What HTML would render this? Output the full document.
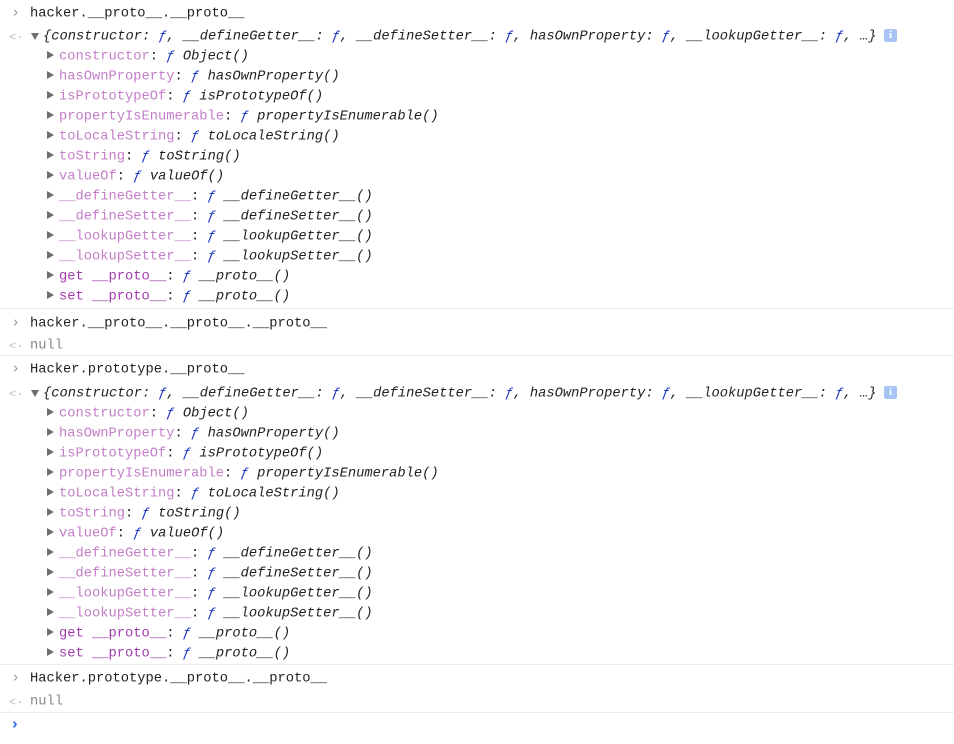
<!DOCTYPE html>
<html><head><meta charset="utf-8"><style>
html,body{margin:0;padding:0;background:#fff;width:954px;height:744px;overflow:hidden}
body{position:relative;font-family:"Liberation Mono",monospace;font-size:13.75px;color:#222}
.r{position:absolute;height:20px;line-height:20px;white-space:pre;transform:translateY(1.5px)}
.k{color:#c37ec8}
.kg{color:#a23aae}
.f{color:#1a33c0;font-style:italic}
.i{font-style:italic}
.t{position:absolute;width:0;height:0;border-top:4.5px solid transparent;border-bottom:4.5px solid transparent;border-left:7px solid #6e6e6e}
.td{position:absolute;width:0;height:0;border-left:4.5px solid transparent;border-right:4.5px solid transparent;border-top:7px solid #6e6e6e}
.sep{position:absolute;left:0;width:954px;height:1px;background:#ececec}
.info{position:absolute;width:13px;height:13px;background:#a8c4f5;border-radius:2px;color:#fff;font-size:11px;line-height:13px;text-align:center;font-family:"Liberation Serif",serif;font-weight:bold}
.g{color:#888}
.pr{color:#999;font-size:15px}
.ar{color:#bbb;font-size:12px}
</style></head><body>

<div class="r pr" style="left:11px;top:2px">›</div>
<div class="r" style="left:30px;top:3px">hacker.__proto__.__proto__</div>
<div class="r ar" style="left:9px;top:26px">&lt;·</div>
<div class="td" style="left:31px;top:33px"></div>
<div class="r i" style="left:43px;top:26px">{constructor: <span class="f">ƒ</span>, __defineGetter__: <span class="f">ƒ</span>, __defineSetter__: <span class="f">ƒ</span>, hasOwnProperty: <span class="f">ƒ</span>, __lookupGetter__: <span class="f">ƒ</span>, …}</div>
<div class="info" style="left:884px;top:29px">i</div>

<div id="e1"></div>

<div class="sep" style="top:308px"></div>
<div class="r pr" style="left:11px;top:312px">›</div>
<div class="r" style="left:30px;top:313px">hacker.__proto__.__proto__.__proto__</div>
<div class="r ar" style="left:9px;top:335px">&lt;·</div>
<div class="r g" style="left:30px;top:335px">null</div>
<div class="sep" style="top:355px"></div>

<div class="r pr" style="left:11px;top:358px">›</div>
<div class="r" style="left:30px;top:359px">Hacker.prototype.__proto__</div>
<div class="r ar" style="left:9px;top:383px">&lt;·</div>
<div class="td" style="left:31px;top:390px"></div>
<div class="r i" style="left:43px;top:383px">{constructor: <span class="f">ƒ</span>, __defineGetter__: <span class="f">ƒ</span>, __defineSetter__: <span class="f">ƒ</span>, hasOwnProperty: <span class="f">ƒ</span>, __lookupGetter__: <span class="f">ƒ</span>, …}</div>
<div class="info" style="left:884px;top:386px">i</div>

<div id="e2"></div>

<div class="sep" style="top:664px"></div>
<div class="r pr" style="left:11px;top:667px">›</div>
<div class="r" style="left:30px;top:668px">Hacker.prototype.__proto__.__proto__</div>
<div class="r ar" style="left:9px;top:691px">&lt;·</div>
<div class="r g" style="left:30px;top:691px">null</div>
<div class="sep" style="top:712px"></div>
<div class="r" style="left:10px;top:713px;color:#2a6ee8;font-weight:bold;font-size:16px">›</div>

<script>
var items=[["constructor","Object()"],["hasOwnProperty","hasOwnProperty()"],["isPrototypeOf","isPrototypeOf()"],["propertyIsEnumerable","propertyIsEnumerable()"],["toLocaleString","toLocaleString()"],["toString","toString()"],["valueOf","valueOf()"],["__defineGetter__","__defineGetter__()"],["__defineSetter__","__defineSetter__()"],["__lookupGetter__","__lookupGetter__()"],["__lookupSetter__","__lookupSetter__()"],["get __proto__","__proto__()",1],["set __proto__","__proto__()",1]];
function build(start){var h="";for(var i=0;i<items.length;i++){var t=start+i*20;var it=items[i];
h+='<div class="t" style="left:47px;top:'+(t+5)+'px"></div>';
h+='<div class="r" style="left:59px;top:'+t+'px"><span class="'+(it[2]?'kg':'k')+'">'+it[0]+'</span>: <span class="f">ƒ</span> <span class="i">'+it[1]+'</span></div>';}
return h;}
document.getElementById("e1").outerHTML=build(46);
document.getElementById("e2").outerHTML=build(403);
</script>
</body></html>
